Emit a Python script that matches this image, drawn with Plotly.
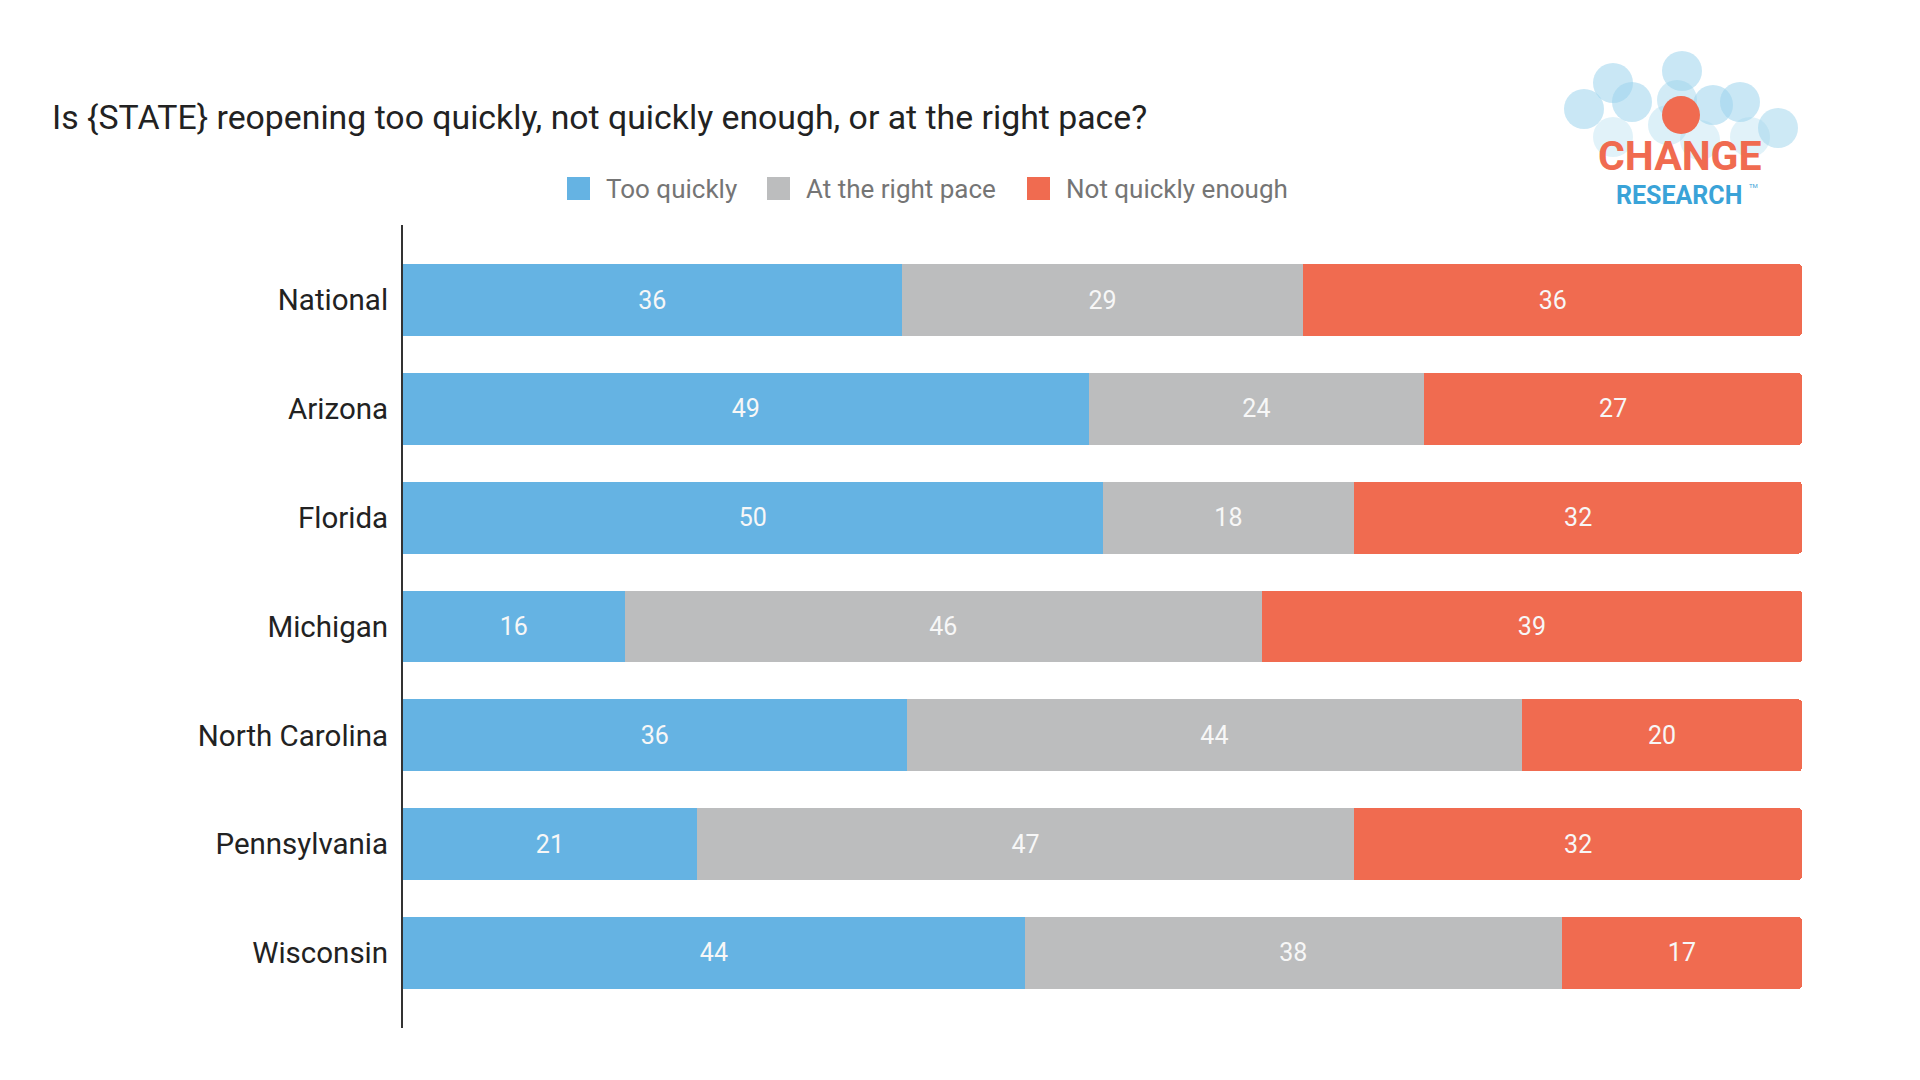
import plotly.graph_objects as go

# dados
regioes = ['National', 'Arizona', 'Florida', 'Michigan', 'North Carolina', 'Pennsylvania', 'Wisconsin']
too_quickly = [36, 49, 50, 16, 36, 21, 44]
right_pace = [29, 24, 18, 46, 44, 47, 38]
not_enough = [36, 27, 32, 39, 20, 32, 17]

nomes = ['Too quickly', 'At the right pace', 'Not quickly enough']
cores = ['#65B3E3', '#BCBDBE', '#F06B50']
valores = [too_quickly, right_pace, not_enough]

W, H = 1920, 1080
OFF = 8  # margem do body da pagina html
# area do grafico em pixels da referencia
L, R, T, B = 403 - OFF, 1802 - OFF, 225 - OFF, 1028 - OFF


def px(x, y):
    # pixel da referencia -> coordenadas paper
    x, y = x - OFF, y - OFF
    return (x - L) / (R - L), (B - y) / (B - T)


fig = go.Figure()
for nome, vals, cor in zip(nomes, valores, cores):
    fig.add_trace(go.Bar(
        y=regioes, x=vals, name=nome, orientation='h',
        marker=dict(color=cor, line=dict(width=0)),
        text=vals, texttemplate='%{text}', textposition='inside',
        insidetextanchor='middle',
        textfont=dict(family='Roboto', size=25, color='#F7F7F7'),
        hoverinfo='skip', showlegend=False,
    ))

shapes = []
anns = []

# ---------- legenda feita a mao (quadrados maiores) ----------
leg_x = [567, 767, 1027]
for nome, cor, x in zip(nomes, cores, leg_x):
    x0, y0 = px(x, 200)
    x1, y1 = px(x + 23, 177)
    shapes.append(dict(type='rect', xref='paper', yref='paper', x0=x0, y0=y0, x1=x1, y1=y1,
                       fillcolor=cor, line=dict(width=0)))
    tx, ty = px(x + 37, 189)
    anns.append(dict(text=nome, xref='paper', yref='paper', x=tx, y=ty, showarrow=False,
                     xanchor='left', yanchor='middle',
                     font=dict(family='Roboto', size=26, color='#757575')))

# ---------- logo (circulos + texto) ----------
circulos = [
    (1682, 71, 0.55), (1613, 83, 0.55), (1584, 109, 0.55), (1632, 102, 0.55),
    (1677, 100, 0.45), (1713, 105, 0.55), (1740, 102, 0.55), (1778, 128, 0.5),
    (1613, 137, 0.3), (1668, 125, 0.35), (1700, 140, 0.3), (1750, 137, 0.3),
]
raio = 20
for cx, cy, op in circulos:
    x0, y0 = px(cx - raio, cy + raio)
    x1, y1 = px(cx + raio, cy - raio)
    shapes.append(dict(type='circle', xref='paper', yref='paper', x0=x0, y0=y0, x1=x1, y1=y1,
                       fillcolor='#9CD3EC', opacity=op, line=dict(width=0)))
x0, y0 = px(1681 - 19, 115 + 19)
x1, y1 = px(1681 + 19, 115 - 19)
shapes.append(dict(type='circle', xref='paper', yref='paper', x0=x0, y0=y0, x1=x1, y1=y1,
                   fillcolor='#F06B50', line=dict(width=0)))

ax, ay = px(1680, 156)
anns.append(dict(text='<b>CHANGE</b>', xref='paper', yref='paper', x=ax, y=ay, showarrow=False,
                 xanchor='center', yanchor='middle',
                 font=dict(family='Roboto', size=41, color='#F06B50')))
ax, ay = px(1679, 195)
anns.append(dict(text='<b>RESEARCH</b>', xref='paper', yref='paper', x=ax, y=ay, showarrow=False,
                 xanchor='center', yanchor='middle',
                 font=dict(family='Roboto', size=25, color='#3AA3D8')))
ax, ay = px(1753, 185)
anns.append(dict(text='TM', xref='paper', yref='paper', x=ax, y=ay, showarrow=False,
                 xanchor='center', yanchor='middle',
                 font=dict(family='Roboto', size=6, color='#3AA3D8')))

fig.update_layout(
    width=W, height=H,
    barmode='stack', barnorm='percent', bargap=0.34,
    barcornerradius=4,
    showlegend=False,
    plot_bgcolor='white', paper_bgcolor='white',
    margin=dict(l=L, r=W - R, t=T, b=H - B),
    title=dict(text='Is {STATE} reopening too quickly, not quickly enough, or at the right pace?',
               xref='container', yref='container', x=(52 - OFF) / W, xanchor='left',
               y=1 - (117 - OFF) / H, yanchor='middle',
               font=dict(family='Roboto', size=33.8, color='#222222')),
    xaxis=dict(range=[0, 100], showgrid=False, zeroline=False, showticklabels=False,
               showline=False, fixedrange=True),
    yaxis=dict(categoryorder='array', categoryarray=regioes, range=[6.69, -0.69],
               showgrid=False, zeroline=False, showline=True, linecolor='#333333', linewidth=2,
               ticks='', ticklabelstandoff=7,
               tickfont=dict(family='Roboto', size=29.5, color='#222222')),
    shapes=shapes,
    annotations=anns,
    font=dict(family='Roboto'),
)

fig.write_html('out.html')
